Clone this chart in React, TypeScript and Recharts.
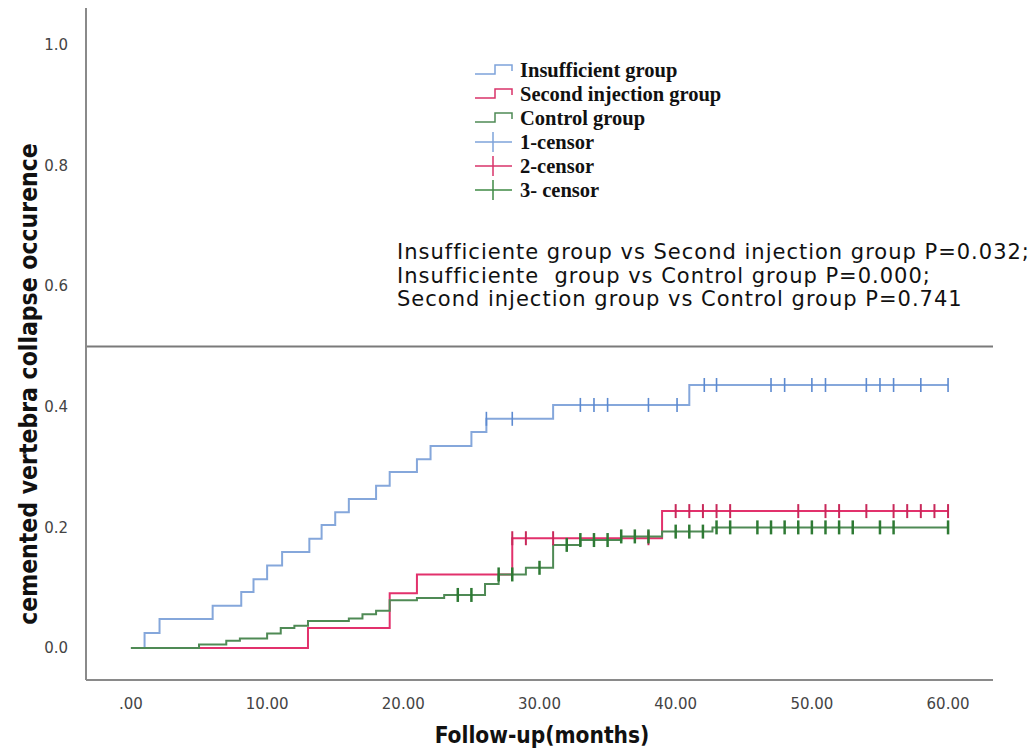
import React from "react";
import { ComposedChart, Line, Scatter, XAxis, YAxis, ReferenceLine } from "recharts";

// step curves: time (months) and cumulative occurrence
const insuffTimes = [0, 1, 2.1, 6, 8.1, 9, 10, 11.1, 13.1, 14, 15, 16, 18, 19, 21, 22, 25, 26.1, 31, 41, 60];
const insuffValues = [0, 0.025, 0.048, 0.07, 0.093, 0.114, 0.137, 0.159, 0.181, 0.204, 0.225, 0.247, 0.269, 0.292, 0.313, 0.335, 0.358, 0.38, 0.403, 0.436, 0.436];
const insuffCensor = [26.1, 28, 33, 34, 35, 38, 40.1, 42.1, 43, 47, 48, 50, 51, 54, 55, 56, 58, 60];

const secondTimes = [0, 13, 19, 21, 28, 39, 60];
const secondValues = [0, 0.033, 0.091, 0.122, 0.182, 0.227, 0.227];
const secondCensor = [28, 29, 31, 38, 40, 41, 42, 43, 44, 49, 51, 52, 54, 56, 57, 58, 59, 60];

const controlTimes = [0, 5, 7, 8, 10, 11, 12, 13, 16, 17, 18, 19, 21, 23, 26, 27, 29, 31, 33, 36, 39, 42.7, 60];
const controlValues = [0, 0.006, 0.012, 0.016, 0.024, 0.033, 0.037, 0.045, 0.049, 0.056, 0.062, 0.079, 0.083, 0.088, 0.106, 0.122, 0.133, 0.171, 0.179, 0.185, 0.193, 0.2, 0.2];
const controlCensor = [24, 25, 27, 28, 30, 32, 33, 34, 35, 36, 37, 38, 40, 41, 42, 43, 44, 46, 47, 48, 49, 50, 51, 52, 53, 55, 56, 60];

const xTicks = [0, 10, 20, 30, 40, 50, 60];
const yTicks = [0, 0.2, 0.4, 0.6, 0.8, 1.0];

const legendItems = [
  { label: "Insufficient group", color: "#7ea3da", kind: "step" },
  { label: "Second injection group", color: "#d9336a", kind: "step" },
  { label: "Control group", color: "#4f8a55", kind: "step" },
  { label: "1-censor", color: "#7ea3da", kind: "censor" },
  { label: "2-censor", color: "#d9336a", kind: "censor" },
  { label: "3- censor", color: "#3f8a45", kind: "censor" },
];

const pValueLines = [
  "Insufficiente group vs Second injection group P=0.032;",
  "Insufficiente  group vs Control group P=0.000;",
  "Second injection group vs Control group P=0.741",
];

const toSteps = (times: number[], values: number[]) => times.map((t, i) => ({ t, v: values[i] }));

const censorPoints = (times: number[], values: number[], censor: number[]) =>
  censor.map((c) => {
    let v = values[0];
    times.forEach((t, i) => {
      if (t <= c) v = values[i];
    });
    return { t: c, v };
  });

const censorShape = (color: string, width: number) => (props: any) => {
  const { cx, cy } = props;
  return <line x1={cx} x2={cx} y1={cy - 7} y2={cy + 7} stroke={color} strokeWidth={width} />;
};

function LegendIcon({ color, kind }: { color: string; kind: string }) {
  return (
    <svg width={40} height={22} style={{ display: "block" }}>
      {kind === "step" ? (
        <polyline points="1,15 21,15 21,6 38,6 38,12" fill="none" stroke={color} strokeWidth={1.5} />
      ) : (
        <g>
          <line x1={1} x2={38} y1={11} y2={11} stroke={color} strokeWidth={1.5} />
          <line x1={19} x2={19} y1={1} y2={21} stroke={color} strokeWidth={1.5} />
        </g>
      )}
    </svg>
  );
}

const titleFont = "'Liberation Sans Narrow', 'DejaVu Sans Condensed', Roboto, sans-serif";

export default function App() {
  return (
    <div style={{ position: "absolute", left: 0, top: 0, width: 1033, height: 749, background: "#fff" }}>
      <ComposedChart width={1033} height={749} margin={{ top: 8, right: 40, bottom: 0, left: 0 }}>
        <XAxis
          type="number"
          dataKey="t"
          domain={[-3.3, 63.3]}
          ticks={xTicks}
          tickFormatter={(v: number) => (v === 0 ? ".00" : v.toFixed(2))}
          tickLine={false}
          tickMargin={12}
          height={69}
          axisLine={{ stroke: "#8a8a8a", strokeWidth: 2 }}
          tick={{ fontSize: 15, fill: "#444", fontFamily: "DejaVu Sans" }}
          allowDataOverflow
        />
        <YAxis
          type="number"
          domain={[-0.053, 1.061]}
          ticks={yTicks}
          tickFormatter={(v: number) => v.toFixed(1)}
          tickLine={false}
          tickMargin={12}
          width={86}
          axisLine={{ stroke: "#8a8a8a", strokeWidth: 2 }}
          tick={{ fontSize: 15, fill: "#444", fontFamily: "DejaVu Sans" }}
          allowDataOverflow
        />
        <ReferenceLine y={0.5} stroke="#7a7a7a" strokeWidth={2} />
        <Line data={toSteps(insuffTimes, insuffValues)} dataKey="v" type="stepAfter" stroke="#85a7db" strokeWidth={2} dot={false} isAnimationActive={false} />
        <Line data={toSteps(secondTimes, secondValues)} dataKey="v" type="stepAfter" stroke="#e2316c" strokeWidth={2} dot={false} isAnimationActive={false} />
        <Line data={toSteps(controlTimes, controlValues)} dataKey="v" type="stepAfter" stroke="#4f8a55" strokeWidth={2} dot={false} isAnimationActive={false} />
        <Scatter data={censorPoints(insuffTimes, insuffValues, insuffCensor)} dataKey="v" shape={censorShape("#5d8ad0", 1.6)} isAnimationActive={false} />
        <Scatter data={censorPoints(secondTimes, secondValues, secondCensor)} dataKey="v" shape={censorShape("#c8285a", 2)} isAnimationActive={false} />
        <Scatter data={censorPoints(controlTimes, controlValues, controlCensor)} dataKey="v" shape={censorShape("#2e7a34", 2.5)} isAnimationActive={false} />
      </ComposedChart>

      <div style={{ position: "absolute", left: 474, top: 58 }}>
        {legendItems.map((item) => (
          <div key={item.label} style={{ display: "flex", alignItems: "center", height: 24 }}>
            <LegendIcon color={item.color} kind={item.kind} />
            <span style={{ marginLeft: 6, fontFamily: "'Liberation Serif', serif", fontWeight: "bold", fontSize: 20.5, color: "#111" }}>
              {item.label}
            </span>
          </div>
        ))}
      </div>

      <div style={{ position: "absolute", left: 397, top: 241, fontFamily: "DejaVu Sans", fontSize: 21, letterSpacing: 1, lineHeight: "23.5px", color: "#111", whiteSpace: "pre" }}>
        {pValueLines.map((l) => (
          <div key={l}>{l}</div>
        ))}
      </div>

      <div
        style={{
          position: "absolute",
          left: 28,
          top: 384,
          transform: "translate(-50%, -50%) rotate(-90deg)",
          whiteSpace: "nowrap",
          fontFamily: titleFont,
          fontWeight: "bold",
          fontSize: 24.5,
          color: "#111",
        }}
      >
        cemented vertebra collapse occurence
      </div>
      <div
        style={{
          position: "absolute",
          left: 542,
          top: 735,
          transform: "translate(-50%, -50%)",
          whiteSpace: "nowrap",
          fontFamily: titleFont,
          fontWeight: "bold",
          fontSize: 22.5,
          color: "#111",
        }}
      >
        Follow-up(months)
      </div>
    </div>
  );
}
